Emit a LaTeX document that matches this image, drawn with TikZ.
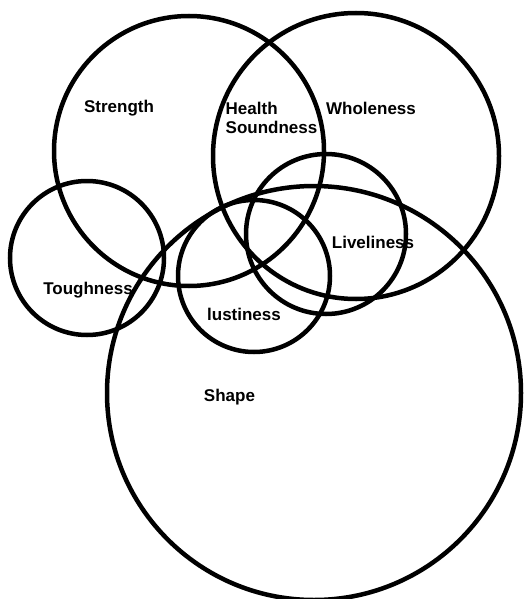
\documentclass[tikz,border=0pt]{standalone}
\usepackage{fontspec}
\setmainfont{Liberation Sans}
\begin{document}
\begin{tikzpicture}[x=1pt,y=-1pt,
  ring/.style={circle,draw=black,line width=4.5pt,inner sep=0pt,minimum size=#1},
  lbl/.style={font=\bfseries\fontsize{17}{19}\selectfont,inner sep=0pt,text=black}]
\useasboundingbox (0,0) rectangle (523,599);
\node[ring=270pt] (strength) at (189,151) {};
\node[ring=286pt] (wholeness) at (356,156) {};
\node[ring=154pt] (toughness) at (87,258) {};
\node[ring=160pt] (liveliness) at (326,234) {};
\node[ring=152pt] (lustiness) at (254,276) {};
\node[ring=414pt] (shape) at (314,393) {};
\node[lbl] (tstrength) at (119,108) {Strength};
\node[lbl,align=left] (thealth) at (271.5,117.5) {Health\\Soundness};
\node[lbl] (twholeness) at (371,108) {Wholeness};
\node[lbl] (tliveliness) at (373,242) {Liveliness};
\node[lbl] (ttoughness) at (88,290) {Toughness};
\node[lbl] (tlustiness) at (244,314) {lustiness};
\node[lbl] (tshape) at (229.5,397) {Shape};
\end{tikzpicture}
\end{document}
